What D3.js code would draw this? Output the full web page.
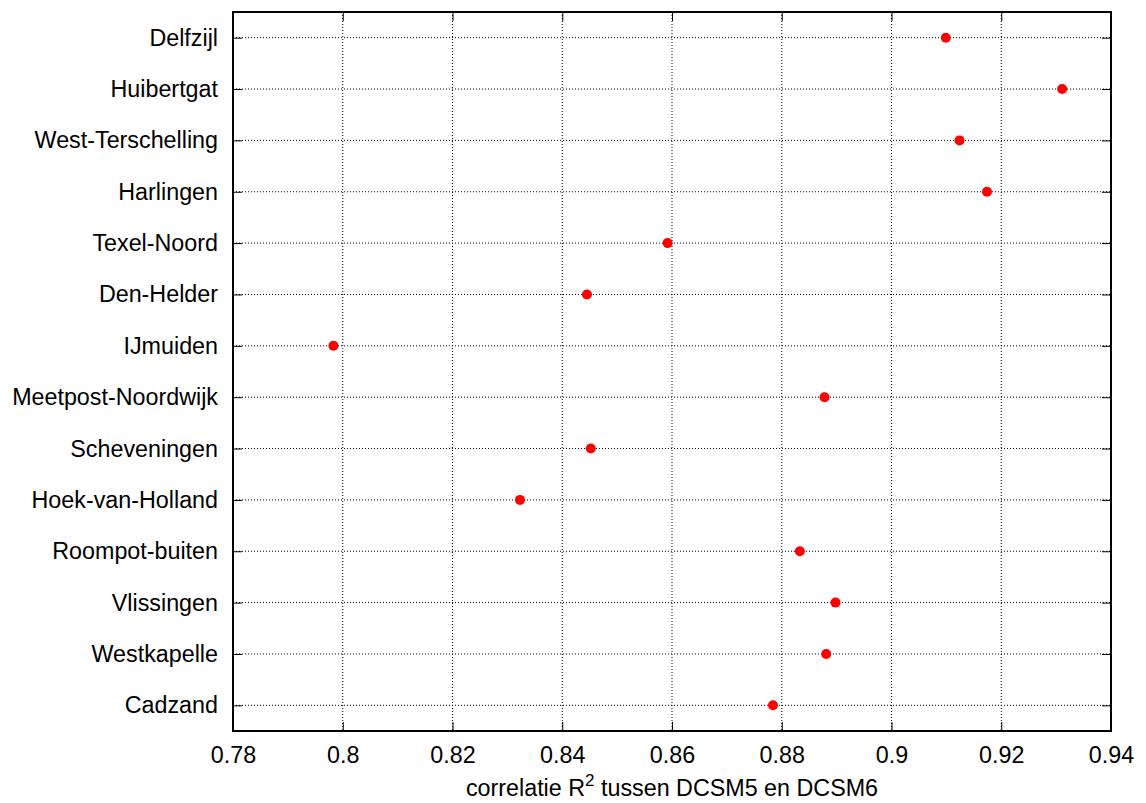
<!DOCTYPE html>
<html>
<head>
<meta charset="utf-8">
<script src="https://cdn.jsdelivr.net/npm/d3@7"></script>
<style>
    body { margin: 0; background: #fff; }
    text { font-family: "Liberation Sans", Arial, Helvetica, sans-serif; fill: #000; }
</style>
</head>
<body>
<div id="chart"></div>
<script>
// stations, top to bottom
const stations = [
    "Delfzijl", "Huibertgat", "West-Terschelling", "Harlingen", "Texel-Noord",
    "Den-Helder", "IJmuiden", "Meetpost-Noordwijk", "Scheveningen",
    "Hoek-van-Holland", "Roompot-buiten", "Vlissingen", "Westkapelle", "Cadzand"
];
// correlation R^2 between DCSM5 and DCSM6
const r2 = [
    0.9099, 0.9311, 0.9124, 0.9174, 0.8592,
    0.8445, 0.7983, 0.8878, 0.8452,
    0.8323, 0.8833, 0.8898, 0.8881, 0.8784
];
const xTicks = [0.78, 0.8, 0.82, 0.84, 0.86, 0.88, 0.9, 0.92, 0.94];

const width = 1146, height = 803;
const margin = {top: 12, right: 35, bottom: 72, left: 233};
const innerW = width - margin.left - margin.right;
const innerH = height - margin.top - margin.bottom;
const fontSize = "23.3px";

const svg = d3.select("#chart")
    .append("svg")
    .attr("width", width)
    .attr("height", height);

const g = svg.append("g")
    .attr("transform", "translate(" + margin.left + "," + margin.top + ")");

const x = d3.scaleLinear()
    .domain([0.78, 0.94])
    .range([0, innerW]);

const y = d3.scalePoint()
    .domain(stations)
    .range([0, innerH])
    .padding(0.5);

const tickLen = 9;

// grid lines (dotted)
g.append("g").selectAll("line.vgrid")
    .data(xTicks.slice(1, -1))
    .join("line")
    .attr("class", "vgrid")
    .attr("x1", d => x(d)).attr("x2", d => x(d))
    .attr("y1", 0).attr("y2", innerH)
    .attr("stroke", "#000")
    .attr("stroke-width", 1)
    .attr("stroke-dasharray", "1,2");

g.append("g").selectAll("line.hgrid")
    .data(stations)
    .join("line")
    .attr("class", "hgrid")
    .attr("x1", 0).attr("x2", innerW)
    .attr("y1", d => y(d)).attr("y2", d => y(d))
    .attr("stroke", "#000")
    .attr("stroke-width", 1)
    .attr("stroke-dasharray", "1,2");

// axes with inward ticks, mirrored on top and right
const xAxisBottom = g.append("g")
    .attr("transform", "translate(0," + innerH + ")")
    .call(d3.axisBottom(x).tickValues(xTicks).tickFormat(d3.format("")).tickSizeInner(-tickLen).tickSizeOuter(0).tickPadding(15));
const xAxisTop = g.append("g")
    .call(d3.axisTop(x).tickValues(xTicks).tickFormat("").tickSizeInner(-tickLen).tickSizeOuter(0));
const yAxisLeft = g.append("g")
    .call(d3.axisLeft(y).tickSizeInner(-tickLen).tickSizeOuter(0).tickPadding(15));
const yAxisRight = g.append("g")
    .attr("transform", "translate(" + innerW + ",0)")
    .call(d3.axisRight(y).tickFormat("").tickSizeInner(-tickLen).tickSizeOuter(0));

[xAxisBottom, xAxisTop, yAxisLeft, yAxisRight].forEach(a => {
    a.select(".domain").remove();
    a.selectAll(".tick line").attr("stroke", "#000").attr("stroke-width", 1);
    a.selectAll(".tick text").style("font-size", fontSize).attr("fill", "#000");
});
xAxisBottom.selectAll(".tick text").attr("dy", "0.71em");

// frame
g.append("rect")
    .attr("x", 0).attr("y", 0)
    .attr("width", innerW).attr("height", innerH)
    .attr("fill", "none")
    .attr("stroke", "#000")
    .attr("stroke-width", 2);

// points
g.append("g").selectAll("circle")
    .data(stations.map((s, i) => ({station: s, value: r2[i]})))
    .join("circle")
    .attr("cx", d => x(d.value))
    .attr("cy", d => y(d.station))
    .attr("r", 5)
    .attr("fill", "#ff0000");

// x axis label
const label = svg.append("text")
    .attr("x", margin.left + innerW / 2)
    .attr("y", 796)
    .attr("text-anchor", "middle")
    .style("font-size", fontSize);
label.append("tspan").text("correlatie R");
label.append("tspan").attr("dy", -10).style("font-size", "17px").text("2");
label.append("tspan").attr("dy", 10).text(" tussen DCSM5 en DCSM6");
</script>
</body>
</html>
